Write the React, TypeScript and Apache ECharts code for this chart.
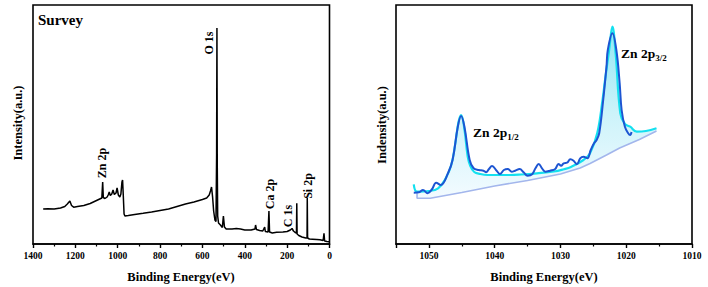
import React, { useEffect, useRef } from "react";
import * as echarts from "echarts";

// Survey spectrum: [binding energy (eV), intensity (a.u.)]
const surveyPoints: [number, number][] = [
  [1352, 35], [1330, 35.3], [1300, 35], [1270, 36], [1250, 37.5], [1238, 40], [1226, 43], [1218, 38.5],
  [1208, 36.8], [1190, 37.5], [1160, 38.5], [1130, 40.5], [1100, 43.5], [1085, 45], [1075, 46], [1071, 62],
  [1068, 46.5], [1060, 45.5], [1050, 47], [1045, 49], [1040, 52], [1035, 48.5], [1028, 50], [1022, 54],
  [1016, 49.5], [1008, 51], [1003, 56], [997, 49], [990, 47], [985, 50], [980, 62], [977, 64], [974, 50],
  [970, 30], [966, 28], [950, 28.5], [920, 29.5], [880, 30.7], [840, 32], [800, 33.5], [760, 35], [720, 37.5],
  [680, 40], [640, 42], [600, 44.5], [580, 46], [568, 49], [562, 53], [557, 57], [552, 47], [547, 33],
  [541, 24], [536, 22.5], [533, 90], [531.5, 216], [530, 80], [528, 28], [524, 21], [515, 19], [506, 16.5],
  [501, 28], [499, 28], [496, 17], [488, 15], [460, 15], [440, 15.5], [420, 15], [400, 14], [370, 14],
  [352, 15], [349, 19], [345, 14.5], [330, 13.5], [315, 13], [306, 17], [303, 12.5], [290, 12], [286, 33],
  [283, 12], [270, 11], [250, 11.7], [220, 12], [200, 12.5], [185, 14], [177, 15.5], [170, 13], [162, 11.5],
  [156, 11], [154.5, 40.7], [153, 10], [145, 8.5], [130, 7], [112, 6], [106, 6], [105, 46], [103.5, 6],
  [95, 5], [80, 4.8], [60, 4.5], [45, 4.2], [30, 3.5], [26, 10.7], [23, 3], [12, 2.5], [0, 2.3],
];

// Zn 2p high-resolution spectrum: raw data
const znRaw: [number, number][] = [
  [1052.3, 51.3], [1051.5, 51.7], [1050.9, 54], [1050.2, 50.7], [1049.5, 55], [1048.9, 61.3], [1048.2, 59],
  [1047.1, 70.7], [1046.4, 84], [1045.6, 117.3], [1045.1, 128], [1044.6, 117.3], [1043.8, 84], [1043.2, 75.7],
  [1042.4, 74], [1041.7, 73.3], [1041.3, 71.7], [1040.9, 74.7], [1040.4, 78], [1039.7, 73.3], [1039.2, 70],
  [1038.6, 74], [1038, 75], [1037.4, 72.3], [1036.9, 73.3], [1036.2, 75], [1035.6, 71.7], [1035, 68.3],
  [1034.3, 69.7], [1033.8, 75.7], [1033.3, 80], [1032.8, 75.7], [1032.3, 72.3], [1031.6, 73.3], [1030.8, 75],
  [1030.3, 80], [1029.9, 78.3], [1029.5, 80.7], [1029, 81.3], [1028.5, 84.7], [1028, 83.3], [1027.5, 79.7],
  [1027, 85.7], [1026.5, 87.3], [1025.9, 85.7], [1025.4, 94], [1024.9, 100.7], [1024.5, 104], [1024.1, 111],
  [1023.5, 144], [1023, 177.3], [1022.8, 194], [1022.1, 210.7], [1021.5, 194], [1021, 161], [1020.7, 134],
  [1020.2, 117.3], [1019.7, 110.7], [1019.4, 109], [1019.2, 112],
];

// Zn 2p fitted envelope
const znEnvelope: [number, number][] = [
  [1052.3, 59.7], [1051.8, 52.3], [1050, 53], [1048.6, 55.7], [1047.5, 65], [1046.6, 79], [1046, 100],
  [1045.5, 122], [1045.1, 129], [1044.6, 115], [1044.1, 87.3], [1043.7, 78], [1043.1, 72], [1042.2, 70],
  [1041.1, 69], [1039.5, 69], [1037.7, 69], [1036, 69.5], [1033.6, 70.7], [1031, 72.5], [1029.5, 74.7],
  [1028.4, 77], [1026.5, 84], [1025.5, 90.7], [1024.4, 111], [1023.6, 144], [1023.2, 165], [1022.6, 194],
  [1022.1, 217.3], [1021.6, 190], [1020.9, 130.7], [1020.2, 120], [1019.4, 117.3], [1018.4, 112.3],
  [1017, 113], [1015.4, 115.7],
];

// Zn 2p background
const znBackground: [number, number][] = [
  [1051.8, 52], [1051.8, 45.7], [1049.8, 45.7], [1045, 51.5], [1040, 58], [1035, 63.5], [1030, 70],
  [1027, 76], [1025.5, 80.5], [1023, 89], [1021, 96], [1018, 104.5], [1015.4, 113],
];

const surveyTicks = { min: 0, max: 1400, interval: 200 };
const znTicks = { min: 1010, max: 1055, interval: 10 };

const peakLabels: { text: string; x: number; y: number }[] = [
  { text: "O 1s", x: 209, y: 43 },
  { text: "Zn 2p", x: 102, y: 163 },
  { text: "Ca 2p", x: 270, y: 194 },
  { text: "C 1s", x: 288, y: 216 },
  { text: "Si 2p", x: 308, y: 186 },
];

const FONT = "Liberation Serif, serif";

export default function App() {
  const ref = useRef<HTMLDivElement>(null);
  useEffect(() => {
    if (!ref.current) return;
    const chart = echarts.init(ref.current, null, { renderer: "svg" });

    const xAxisBase = (idx: number, t: { min: number; max: number; interval: number }) => ({
      type: "value",
      gridIndex: idx,
      min: t.min,
      max: t.max,
      interval: t.interval,
      inverse: true,
      axisLine: { show: true, onZero: false, lineStyle: { color: "#000", width: 1.6 } },
      axisTick: { show: true, inside: false, length: 4, lineStyle: { color: "#000", width: 1.4 } },
      minorTick: { show: true, splitNumber: 2, length: 2.5, lineStyle: { color: "#000", width: 1.2 } },
      axisLabel: {
        show: true,
        margin: 7,
        color: "#000",
        fontFamily: FONT,
        fontWeight: "bold",
        fontSize: 9.5,
        showMaxLabel: idx === 0,
        showMinLabel: true,
        formatter: (v: number) => String(v),
      },
      splitLine: { show: false },
    });

    const yAxisBase = (idx: number) => ({
      type: "value",
      gridIndex: idx,
      min: 0,
      max: 239,
      axisLine: { show: false },
      axisTick: { show: false },
      axisLabel: { show: false },
      splitLine: { show: false },
    });

    const gradient = new echarts.graphic.LinearGradient(0, 0, 0, 1, [
      { offset: 0, color: "#92e7f3" },
      { offset: 0.5, color: "#ccf3fa" },
      { offset: 1, color: "#f3fbff" },
    ]);

    const titleStyle = {
      fontFamily: FONT,
      fontWeight: "bold",
      fontSize: 12.5,
      fill: "#000",
      align: "center",
      verticalAlign: "middle",
    };

    const subRich = {
      a: { fontFamily: FONT, fontWeight: "bold", fontSize: 13.5, fill: "#000", lineHeight: 18 },
      b: { fontFamily: FONT, fontWeight: "bold", fontSize: 9, fill: "#000", lineHeight: 10, verticalAlign: "bottom" },
    };

    const graphics: any[] = [
      {
        type: "text",
        x: 38,
        y: 20,
        style: { text: "Survey", fontFamily: FONT, fontWeight: "bold", fontSize: 15, fill: "#000", align: "left", verticalAlign: "middle" },
      },
      { type: "text", x: 181, y: 277, style: { ...titleStyle, text: "Binding Energy(eV)" } },
      { type: "text", x: 544, y: 277, style: { ...titleStyle, text: "Binding Energy(eV)" } },
      { type: "text", x: 18, y: 123, rotation: Math.PI / 2, style: { ...titleStyle, text: "Intensity(a.u.)" } },
      { type: "text", x: 382, y: 125, rotation: Math.PI / 2, style: { ...titleStyle, text: "Indensity(a.u.)" } },
      ...peakLabels.map((p) => ({
        type: "text",
        x: p.x,
        y: p.y,
        rotation: Math.PI / 2,
        style: { text: p.text, fontFamily: FONT, fontWeight: "bold", fontSize: 12, fill: "#000", align: "center", verticalAlign: "middle" },
      })),
      {
        type: "text",
        x: 621,
        y: 53,
        style: { text: "{a|Zn 2p}{b|3/2}", align: "left", verticalAlign: "middle", rich: subRich },
      },
      {
        type: "text",
        x: 473,
        y: 132,
        style: { text: "{a|Zn 2p}{b|1/2}", align: "left", verticalAlign: "middle", rich: subRich },
      },
    ];

    chart.setOption({
      animation: false,
      backgroundColor: "#fff",
      textStyle: { fontFamily: FONT },
      grid: [
        { left: 33, top: 5, width: 296.5, height: 239, show: true, borderColor: "#000", borderWidth: 1.6, backgroundColor: "transparent" },
        { left: 396, top: 5, width: 296, height: 239, show: true, borderColor: "#000", borderWidth: 1.6, backgroundColor: "transparent" },
      ],
      xAxis: [xAxisBase(0, surveyTicks), xAxisBase(1, znTicks)],
      yAxis: [yAxisBase(0), yAxisBase(1)],
      series: [
        {
          type: "line",
          xAxisIndex: 0,
          yAxisIndex: 0,
          data: surveyPoints,
          showSymbol: false,
          lineStyle: { color: "#000", width: 1.5 },
          z: 3,
        },
        {
          type: "custom",
          xAxisIndex: 1,
          yAxisIndex: 1,
          data: [[1030, 100]],
          renderItem: (_params: any, api: any) => {
            const pts: number[][] = [];
            znEnvelope.forEach((p) => pts.push(api.coord(p)));
            for (let i = znBackground.length - 1; i >= 0; i--) pts.push(api.coord(znBackground[i]));
            return {
              type: "polygon",
              shape: { points: pts, smooth: 0 },
              style: { fill: gradient, stroke: "none" },
            };
          },
          z: 1,
          silent: true,
        },
        {
          type: "line",
          xAxisIndex: 1,
          yAxisIndex: 1,
          data: znBackground,
          showSymbol: false,
          lineStyle: { color: "#a3b6ec", width: 1.6 },
          z: 2,
        },
        {
          type: "line",
          xAxisIndex: 1,
          yAxisIndex: 1,
          data: znEnvelope,
          showSymbol: false,
          smooth: 0.4,
          lineStyle: { color: "#14e0ef", width: 2.2 },
          z: 3,
        },
        {
          type: "line",
          xAxisIndex: 1,
          yAxisIndex: 1,
          data: znRaw,
          showSymbol: false,
          smooth: 0.4,
          lineStyle: { color: "#1d55d2", width: 2 },
          z: 4,
        },
      ],
      graphic: graphics,
    });

    return () => chart.dispose();
  }, []);

  return (
    <div
      ref={ref}
      style={{ position: "fixed", left: 0, top: 0, width: 708, height: 287, background: "#fff" }}
    />
  );
}
